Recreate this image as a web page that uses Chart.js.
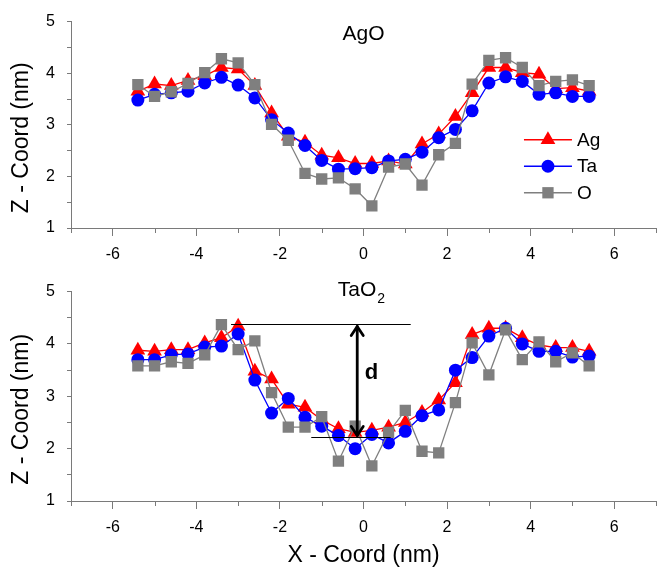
<!DOCTYPE html>
<html>
<head>
<meta charset="utf-8">
<title>Z - Coord profiles</title>
<script src="https://cdn.jsdelivr.net/npm/chart.js@4.4.1/dist/chart.umd.min.js"></script>
<style>
  html, body { margin: 0; padding: 0; background: #fff; }
  #wrap { position: relative; width: 665px; height: 576px; }
  .panel { position: absolute; left: 0; width: 665px; }
</style>
</head>
<body>
<div id="wrap">
  <div class="panel" style="top:0;height:270px"><canvas id="chartAgO"></canvas></div>
  <div class="panel" style="top:270px;height:306px"><canvas id="chartTaO2"></canvas></div>
</div>
<script>
// x positions of the atom columns (nm)
const xCoords = [-5.4, -5.0, -4.6, -4.2, -3.8, -3.4, -3.0, -2.6, -2.2, -1.8, -1.4, -1.0, -0.6, -0.2,
                 0.2, 0.6, 1.0, 1.4, 1.8, 2.2, 2.6, 3.0, 3.4, 3.8, 4.2, 4.6, 5.0, 5.4];

// AgO panel, z heights (nm)
const agoAg = [3.65, 3.79, 3.76, 3.86, 3.95, 4.11, 4.08, 3.76, 3.23, 2.78, 2.66, 2.41, 2.36, 2.25,
               2.25, 2.30, 2.24, 2.63, 2.82, 3.16, 3.62, 4.11, 4.11, 4.01, 3.98, 3.70, 3.72, 3.65];
const agoTa = [3.48, 3.59, 3.62, 3.65, 3.81, 3.92, 3.77, 3.52, 3.10, 2.84, 2.60, 2.31, 2.14, 2.15,
               2.17, 2.30, 2.33, 2.47, 2.75, 2.91, 3.27, 3.81, 3.93, 3.84, 3.59, 3.62, 3.55, 3.55];
const agoO  = [3.78, 3.55, 3.64, 3.80, 4.01, 4.28, 4.20, 3.78, 3.01, 2.70, 2.06, 1.95, 1.97, 1.76,
               1.43, 2.18, 2.24, 1.83, 2.42, 2.64, 3.79, 4.25, 4.30, 4.11, 3.76, 3.84, 3.87, 3.76];

// TaO2 panel, z heights (nm)
const taoAg = [3.88, 3.86, 3.89, 3.89, 4.02, 4.12, 4.34, 3.48, 3.33, 2.85, 2.79, 2.55, 2.38, 2.31,
               2.35, 2.41, 2.50, 2.69, 2.93, 3.26, 4.18, 4.30, 4.30, 4.12, 3.98, 3.93, 3.93, 3.86];
const taoTa = [3.70, 3.70, 3.79, 3.81, 3.94, 3.96, 4.19, 3.31, 2.68, 2.96, 2.60, 2.43, 2.25, 2.00,
               2.27, 2.11, 2.33, 2.63, 2.74, 3.50, 3.74, 4.15, 4.30, 4.00, 3.86, 3.86, 3.75, 3.77];
const taoO  = [3.58, 3.58, 3.66, 3.63, 3.79, 4.37, 3.89, 4.06, 3.07, 2.41, 2.41, 2.61, 1.76, 2.43,
               1.67, 2.31, 2.73, 1.95, 1.92, 2.88, 4.02, 3.41, 4.27, 3.70, 4.04, 3.66, 3.83, 3.58];

// depth marker "d" in the TaO2 panel (nm)
const dTop = 4.38, dBottom = 2.22, dArrowX = -0.15;
const dTopSpan = [-3.17, 1.13];
const dBottomSpan = [-1.25, 0.65];

const fontFamily = "'Liberation Sans', Arial, sans-serif";
const axisColor = '#7a7a7a';

const series = [
  { label: 'Ag', color: '#ff0000', style: 'triangle', radius: 8.5, order: 2 },
  { label: 'Ta', color: '#0000ff', style: 'circle', radius: 6.5, order: 1 },
  { label: 'O',  color: '#7f7f7f', style: 'rect', radius: 8, order: 0 }
];

function makeDatasets(values) {
  return series.map((s, i) => ({
    label: s.label,
    data: xCoords.map((x, k) => ({ x: x, y: values[i][k] })),
    showLine: true,
    borderColor: s.color,
    borderWidth: 1.3,
    backgroundColor: s.color,
    pointStyle: s.style,
    pointRadius: s.radius,
    pointBorderWidth: 0,
    pointBackgroundColor: s.color,
    order: s.order
  }));
}

function line(ctx, x1, y1, x2, y2) {
  ctx.beginPath();
  ctx.moveTo(x1, y1);
  ctx.lineTo(x2, y2);
  ctx.stroke();
}

// minor ticks, axis title, panel label, legend and the depth arrow
const panelDecor = {
  id: 'panelDecor',
  afterDraw(chart, args, o) {
    const ctx = chart.ctx, xs = chart.scales.x, ys = chart.scales.y, area = chart.chartArea;
    ctx.save();

    ctx.strokeStyle = axisColor;
    ctx.lineWidth = 1;
    xs.ticks.forEach(t => {
      if (Math.abs(t.value % 2) === 1) {
        const px = Math.round(xs.getPixelForValue(t.value)) + 0.5;
        line(ctx, px, area.bottom, px, area.bottom + 5);
      }
    });

    ctx.fillStyle = '#000';
    ctx.save();
    ctx.translate(22, (area.top + area.bottom) / 2 + 13);
    ctx.rotate(-Math.PI / 2);
    ctx.font = '23px ' + fontFamily;
    ctx.textAlign = 'center';
    ctx.textBaseline = 'middle';
    ctx.fillText('Z - Coord (nm)', 0, 0);
    ctx.restore();

    // panel label with optional subscript
    ctx.font = '21px ' + fontFamily;
    const mainW = ctx.measureText(o.title).width;
    ctx.font = '14px ' + fontFamily;
    const subW = o.sub ? ctx.measureText(o.sub).width + 1 : 0;
    const cx = xs.getPixelForValue(o.titleX), cy = ys.getPixelForValue(o.titleY);
    const startX = cx - (mainW + subW) / 2;
    ctx.textAlign = 'left';
    ctx.textBaseline = 'middle';
    ctx.font = '21px ' + fontFamily;
    ctx.fillText(o.title, startX, cy);
    if (o.sub) {
      ctx.font = '14px ' + fontFamily;
      ctx.fillText(o.sub, startX + mainW + 1, cy + 9);
    }

    if (o.legend) {
      const lx = xs.getPixelForValue(o.legend.x), ly = ys.getPixelForValue(o.legend.y);
      chart.data.datasets.forEach((ds, i) => {
        const y = ly + i * 26.5;
        ctx.strokeStyle = ds.borderColor;
        ctx.lineWidth = 1.3;
        line(ctx, lx, y, lx + 48, y);
        ctx.fillStyle = ds.pointBackgroundColor;
        Chart.helpers.drawPoint(ctx, { pointStyle: ds.pointStyle, radius: ds.pointRadius, rotation: 0, borderWidth: 0 }, lx + 24, y);
        ctx.fillStyle = '#000';
        ctx.font = '19px ' + fontFamily;
        ctx.textAlign = 'left';
        ctx.textBaseline = 'middle';
        ctx.fillText(ds.label, lx + 53, y + 1);
      });
    }

    if (o.depth) {
      const yT = Math.round(ys.getPixelForValue(dTop)) + 0.5;
      const yB = Math.round(ys.getPixelForValue(dBottom)) + 0.5;
      const ax = xs.getPixelForValue(dArrowX);
      ctx.strokeStyle = '#000';
      ctx.lineWidth = 1;
      line(ctx, xs.getPixelForValue(dTopSpan[0]), yT, xs.getPixelForValue(dTopSpan[1]), yT);
      line(ctx, xs.getPixelForValue(dBottomSpan[0]), yB, xs.getPixelForValue(dBottomSpan[1]), yB);
      ctx.lineWidth = 2.8;
      ctx.lineCap = 'round';
      ctx.lineJoin = 'round';
      line(ctx, ax, yT + 2, ax, yB - 2);
      ctx.beginPath();
      ctx.moveTo(ax - 6, yT + 11); ctx.lineTo(ax, yT + 2); ctx.lineTo(ax + 6, yT + 11);
      ctx.moveTo(ax - 6, yB - 11); ctx.lineTo(ax, yB - 2); ctx.lineTo(ax + 6, yB - 11);
      ctx.stroke();
      ctx.fillStyle = '#000';
      ctx.font = 'bold 22px ' + fontFamily;
      ctx.textAlign = 'center';
      ctx.textBaseline = 'middle';
      ctx.fillText('d', xs.getPixelForValue(0.19), ys.getPixelForValue(3.44));
    }
    ctx.restore();
  }
};

function panelOptions(p) {
  return {
    responsive: true,
    maintainAspectRatio: false,
    animation: false,
    events: [],
    layout: { padding: { top: p.padTop, right: 5, left: 0, bottom: 0 } },
    plugins: {
      legend: { display: false },
      tooltip: { enabled: false },
      panelDecor: p.decor
    },
    scales: {
      x: {
        type: 'linear',
        min: -7,
        max: 7,
        afterFit: s => { s.height = p.xHeight; },
        border: { color: axisColor, width: 1 },
        grid: {
          drawOnChartArea: false,
          tickLength: 8,
          tickColor: c => (c.tick && Math.abs(c.tick.value % 2) === 1) ? 'rgba(0,0,0,0)' : axisColor
        },
        ticks: {
          stepSize: 1,
          autoSkip: false,
          maxRotation: 0,
          padding: 9,
          color: '#000',
          font: { family: fontFamily, size: 16 },
          callback: v => (v % 2 === 0 && Math.abs(v) < 7) ? String(Math.abs(v) < 1e-9 ? 0 : v) : ''
        },
        title: {
          display: p.xTitle,
          text: 'X - Coord (nm)',
          color: '#000',
          font: { family: fontFamily, size: 23 },
          padding: { top: 0, bottom: 7 }
        }
      },
      y: {
        min: 1,
        max: 5,
        afterFit: s => { s.width = 71; },
        border: { color: axisColor, width: 1 },
        grid: { drawOnChartArea: false, tickLength: 4, tickColor: axisColor },
        ticks: {
          stepSize: 0.5,
          padding: 12,
          color: '#000',
          font: { family: fontFamily, size: 16 },
          callback: v => Number.isInteger(v) ? String(v) : ''
        }
      }
    }
  };
}

new Chart(document.getElementById('chartAgO'), {
  type: 'scatter',
  data: { datasets: makeDatasets([agoAg, agoTa, agoO]) },
  options: panelOptions({
    padTop: 16, xHeight: 42, xTitle: false,
    decor: { title: 'AgO', sub: '', titleX: 0, titleY: 4.75, legend: { x: 3.84, y: 2.71 }, depth: false }
  }),
  plugins: [panelDecor]
});

new Chart(document.getElementById('chartTaO2'), {
  type: 'scatter',
  data: { datasets: makeDatasets([taoAg, taoTa, taoO]) },
  options: panelOptions({
    padTop: 20, xHeight: 75, xTitle: true,
    decor: { title: 'TaO', sub: '2', titleX: -0.05, titleY: 5.02, legend: null, depth: true }
  }),
  plugins: [panelDecor]
});
</script>
</body>
</html>
